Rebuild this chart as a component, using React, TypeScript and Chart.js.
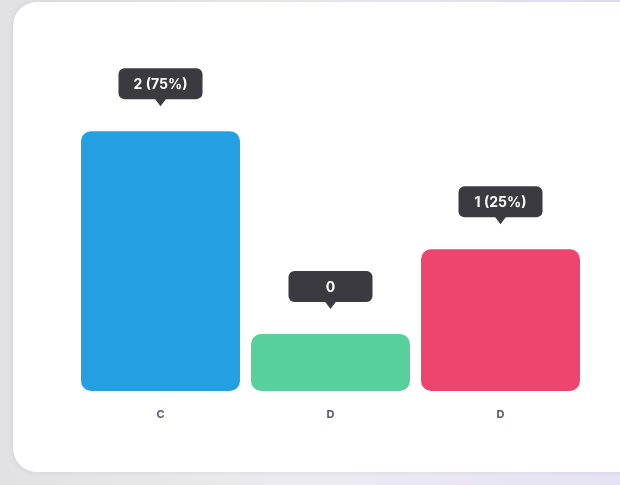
import React, { useEffect, useRef } from "react";
import { Chart, registerables } from "chart.js";

Chart.register(...registerables);

const categories = ["C", "D", "D"];
const values = [2, 0, 1];
const badgeLabels = ["2 (75%)", "0", "1 (25%)"];
const barColors = ["#24a0e2", "#57d09b", "#ee456e"];

const badgePlugin = {
  id: "badges",
  afterDatasetsDraw(chart: any) {
    const ctx = chart.ctx;
    const meta = chart.getDatasetMeta(0);
    ctx.save();
    ctx.font = "700 14px Inter, 'Open Sans', sans-serif";
    ctx.textAlign = "center";
    ctx.textBaseline = "middle";
    meta.data.forEach((bar: any, i: number) => {
      const text = badgeLabels[i];
      const tw = ctx.measureText(text).width;
      const w = Math.max(84, tw + 28);
      const h = 31;
      const cx = bar.x;
      const bottom = bar.y - 32;
      const top = bottom - h;
      ctx.fillStyle = "#3b3a41";
      ctx.beginPath();
      ctx.roundRect(cx - w / 2, top, w, h, 6);
      ctx.fill();
      ctx.beginPath();
      ctx.moveTo(cx - 6, bottom - 1);
      ctx.lineTo(cx + 6, bottom - 1);
      ctx.lineTo(cx, bottom + 7);
      ctx.closePath();
      ctx.fill();
      ctx.fillStyle = "#ffffff";
      ctx.fillText(text, cx, top + h / 2 + 1);
    });
    ctx.restore();
  },
};

export default function App() {
  const ref = useRef<HTMLCanvasElement | null>(null);
  useEffect(() => {
    document.body.style.margin = "0";
    const chart = new Chart(ref.current as HTMLCanvasElement, {
      type: "bar",
      data: {
        labels: categories,
        datasets: [
          {
            data: values,
            backgroundColor: barColors,
            borderRadius: 10,
            borderSkipped: false,
            base: -0.2,
            minBarLength: 57,
            categoryPercentage: 1,
            barPercentage: 0.935,
          } as any,
        ],
      },
      options: {
        animation: false,
        responsive: false,
        layout: { padding: { left: 75.5, right: 34.5, top: 13, bottom: 46 } },
        plugins: { legend: { display: false }, tooltip: { enabled: false } },
        scales: {
          x: {
            grid: { display: false, drawTicks: false },
            border: { display: false },
            ticks: {
              color: "#5b5670",
              padding: 17.4,
              font: { family: "Inter, 'Open Sans', sans-serif", size: 11, weight: "bold" },
            },
          },
          y: {
            display: false,
            min: -0.2,
            max: 3,
          },
        },
      },
      plugins: [badgePlugin],
    });
    return () => chart.destroy();
  }, []);

  return (
    <div
      style={{
        position: "fixed",
        left: 0,
        top: 0,
        width: 620,
        height: 485,
        overflow: "hidden",
        background: "linear-gradient(90deg, #e2e2e4 0%, #ecebf1 50%, #e6e2f4 100%)",
      }}
    >
      <div
        style={{
          position: "absolute",
          left: 13,
          top: 2,
          width: 660,
          height: 470,
          background: "#ffffff",
          borderRadius: 24,
          boxShadow: "0 0 6px rgba(0,0,0,0.08)",
        }}
      />
      <canvas ref={ref} width={620} height={485} style={{ position: "absolute", left: 0, top: 0 }} />
    </div>
  );
}
